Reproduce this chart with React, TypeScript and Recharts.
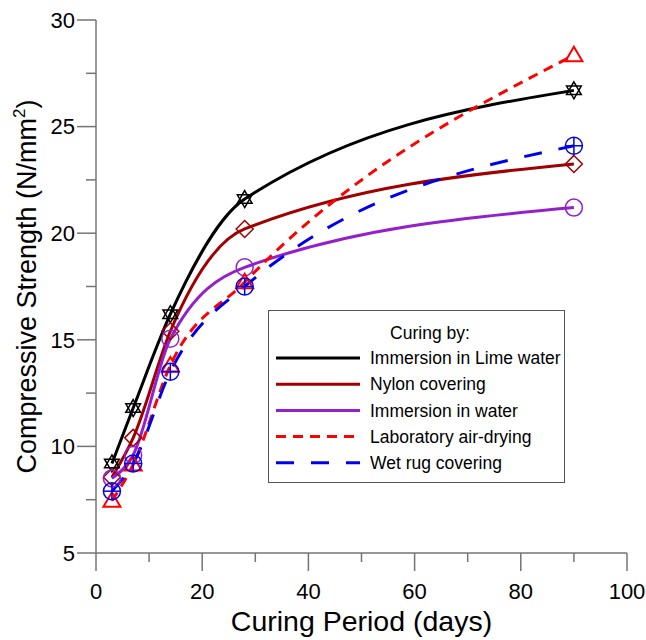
import React from "react";
import { LineChart, Line, XAxis, YAxis, Legend, Label } from "recharts";

// curing ages (days)
const days = [3, 7, 14, 28, 90];

// compressive strength (N/mm2) per curing method
const limeWater = [9.2, 11.8, 16.2, 21.6, 26.7];
const nylon = [8.55, 10.4, 15.4, 20.2, 23.25];
const water = [8.5, 9.6, 15.05, 18.4, 21.2];
const airDrying = [7.45, 9.15, 13.8, 17.7, 28.35];
const wetRug = [7.9, 9.2, 13.5, 17.5, 24.1];

const xTicks = [0, 10, 20, 30, 40, 50, 60, 70, 80, 90, 100];
const yTicks = [5, 7.5, 10, 12.5, 15, 17.5, 20, 22.5, 25, 27.5, 30];

const FONT = '"Liberation Sans", Arial, sans-serif';
const AXIS = "#747474";

const series = [
  { key: "lime", name: "Immersion in Lime water", values: limeWater, color: "#000000", dash: undefined, marker: "star" },
  { key: "nylon", name: "Nylon covering", values: nylon, color: "#A00000", dash: undefined, marker: "diamond" },
  { key: "water", name: "Immersion in water", values: water, color: "#9420CC", dash: undefined, marker: "circle" },
  { key: "air", name: "Laboratory air-drying", values: airDrying, color: "#FF0000", dash: "10 7", marker: "triangle" },
  { key: "rug", name: "Wet rug covering", values: wetRug, color: "#0000F0", dash: "18 17", marker: "cross" },
];

const data = days.map((d, i) => {
  const row: any = { day: d };
  series.forEach((s) => {
    row[s.key] = s.values[i];
  });
  return row;
});

function Marker({ cx, cy, kind, color }: any) {
  if (cx == null || cy == null) return null;
  const r = 8.5;
  if (kind === "star") {
    const h = r * 0.866;
    return (
      <g fill="none" stroke={color} strokeWidth={1.5}>
        <polygon points={`${cx},${cy - r} ${cx + h},${cy + r / 2} ${cx - h},${cy + r / 2}`} />
        <polygon points={`${cx},${cy + r} ${cx + h},${cy - r / 2} ${cx - h},${cy - r / 2}`} />
      </g>
    );
  }
  if (kind === "diamond") {
    return (
      <polygon
        points={`${cx},${cy - r} ${cx + r},${cy} ${cx},${cy + r} ${cx - r},${cy}`}
        fill="none"
        stroke={color}
        strokeWidth={1.5}
      />
    );
  }
  if (kind === "circle") {
    return <circle cx={cx} cy={cy} r={r} fill="none" stroke={color} strokeWidth={1.5} />;
  }
  if (kind === "triangle") {
    return (
      <polygon
        points={`${cx},${cy - r} ${cx + r},${cy + 6} ${cx - r},${cy + 6}`}
        fill="none"
        stroke={color}
        strokeWidth={2}
      />
    );
  }
  return (
    <g fill="none" stroke={color} strokeWidth={1.5}>
      <circle cx={cx} cy={cy} r={r} />
      <line x1={cx - r} x2={cx + r} y1={cy} y2={cy} />
      <line x1={cx} x2={cx} y1={cy - r} y2={cy + r} />
    </g>
  );
}

function XTick({ x, y, payload }: any) {
  const major = payload.value % 20 === 0;
  return (
    <g>
      <line x1={x} x2={x} y1={y} y2={y + (major ? 18 : 9)} stroke={AXIS} strokeWidth={1.5} />
      {major ? (
        <text x={x} y={y + 38} dy="0.35em" textAnchor="middle" fontSize={22} fontFamily={FONT} fill="#000">
          {payload.value}
        </text>
      ) : null}
    </g>
  );
}

function YTick({ x, y, payload }: any) {
  const major = payload.value % 5 === 0;
  return (
    <g>
      <line x1={x - (major ? 19 : 10)} x2={x} y1={y} y2={y} stroke={AXIS} strokeWidth={1.5} />
      {major ? (
        <text x={x - 21} y={y} dy="0.35em" textAnchor="end" fontSize={22} fontFamily={FONT} fill="#000">
          {payload.value}
        </text>
      ) : null}
    </g>
  );
}

function CuringLegend() {
  return (
    <div
      style={{
        width: 297,
        height: 173,
        boxSizing: "border-box",
        border: "1.5px solid #555",
        background: "#fff",
      }}
    >
      <svg width={294} height={170} style={{ display: "block" }}>
        <text x={161} y={22} dy="0.35em" textAnchor="middle" fontSize={17.5} fontFamily={FONT} fill="#000">
          Curing by:
        </text>
        {series.map((s, i) => {
          const cy = 47 + i * 26.2;
          return (
            <g key={s.key}>
              <line x1={7} x2={91} y1={cy} y2={cy} stroke={s.color} strokeWidth={3} strokeDasharray={s.dash} />
              <text x={101} y={cy} dy="0.35em" fontSize={17.5} fontFamily={FONT} fill="#000">
                {s.name}
              </text>
            </g>
          );
        })}
      </svg>
    </div>
  );
}

export default function App() {
  return (
    <div style={{ position: "absolute", left: 0, top: 0, background: "#fff" }}>
      <LineChart
        width={646}
        height={640}
        data={data}
        margin={{ top: 20, right: 19, left: 0, bottom: 0 }}
        style={{ fontFamily: FONT }}
      >
        <XAxis
          type="number"
          dataKey="day"
          domain={[0, 100]}
          ticks={xTicks}
          interval={0}
          height={87}
          tickSize={0}
          tickMargin={0}
          tickLine={false}
          axisLine={{ stroke: AXIS, strokeWidth: 1.5 }}
          tick={<XTick />}
        >
          <Label
            value="Curing Period (days)"
            position="insideBottom"
            offset={9}
            fontSize={28.5}
            fontFamily={FONT}
            fill="#000"
          />
        </XAxis>
        <YAxis
          type="number"
          domain={[5, 30]}
          ticks={yTicks}
          interval={0}
          width={96}
          tickSize={0}
          tickMargin={0}
          tickLine={false}
          axisLine={{ stroke: AXIS, strokeWidth: 1.5 }}
          tick={<YTick />}
        >
          <Label
            content={({ viewBox }: any) => {
              const cy = viewBox.y + viewBox.height / 2;
              return (
                <text
                  x={36}
                  y={cy}
                  transform={`rotate(-90, 36, ${cy})`}
                  textAnchor="middle"
                  fontSize={27}
                  fontFamily={FONT}
                  fill="#000"
                >
                  Compressive Strength (N/mm
                  <tspan fontSize={17} dy={-11}>
                    2
                  </tspan>
                  <tspan dy={11}>)</tspan>
                </text>
              );
            }}
          />
        </YAxis>
        <Legend
          layout="vertical"
          align="center"
          verticalAlign="middle"
          content={() => <CuringLegend />}
          wrapperStyle={{ left: 268, top: 310, width: 297, height: 173 }}
        />
        {series.map((s) => (
          <Line
            key={s.key}
            type="monotone"
            dataKey={s.key}
            name={s.name}
            stroke={s.color}
            strokeWidth={3}
            strokeDasharray={s.dash}
            dot={(p: any) => <Marker key={`${s.key}-${p.index}`} cx={p.cx} cy={p.cy} kind={s.marker} color={s.color} />}
            activeDot={false}
            isAnimationActive={false}
          />
        ))}
      </LineChart>
    </div>
  );
}
